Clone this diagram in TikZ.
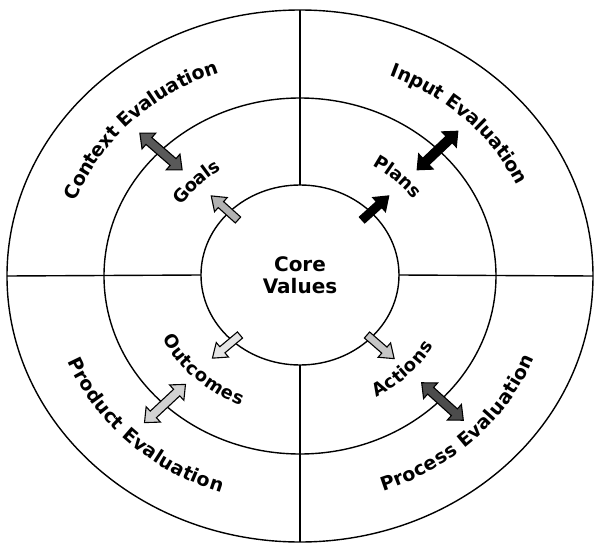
\documentclass[tikz,border=0pt]{standalone}
\usepackage{fontspec}
\setmainfont{DejaVu Sans}
\usetikzlibrary{shapes.geometric,decorations.text}
\newcommand{\lblfont}{\bfseries\fontsize{19}{19}\selectfont}
\newcommand{\midfont}{\bfseries\fontsize{18}{18}\selectfont}
\tikzset{
  ring/.style={draw, ellipse, line width=1.4pt, inner sep=0pt, outer sep=0pt},
  divider/.style={line width=1.4pt},
  blk/.style={draw=black, line width=1.1pt, line join=miter},
  sarrow/.pic={\path[pic actions] (0,-4) -- (23,-4) -- (23,-9.5) -- (36,0) -- (23,9.5) -- (23,4) -- (0,4) -- cycle;},
  darrow/.pic={\path[pic actions] (-28,0) -- (-16,10.5) -- (-16,4.5) -- (16,4.5) -- (16,10.5) -- (28,0) -- (16,-10.5) -- (16,-4.5) -- (-16,-4.5) -- (-16,-10.5) -- cycle;},
  outertext/.style={decorate, decoration={text along path, text align=center, raise=-6pt, text={|\lblfont|#1}}},
  midtext/.style={decorate, decoration={text along path, text align=center, raise=-6pt, text={|\midfont|#1}}}
}
\begin{document}
\begin{tikzpicture}[x=1pt,y=1pt]
\useasboundingbox (-300,-268) rectangle (295,276);
% rings
\node[ring, minimum width=586pt, minimum height=532pt] (outer) at (0,0) {};
\node[ring, minimum width=392pt, minimum height=356pt] (middle) at (0,0) {};
\node[ring, minimum width=198pt, minimum height=180pt, align=center, font=\bfseries\fontsize{20}{22}\selectfont] (inner) at (0,1) {Core\\Values};
% dividers
\draw[divider] (inner.west) -- (outer.west);
\draw[divider] (inner.east) -- (outer.east);
\draw[divider] (inner.north) -- (outer.north);
\draw[divider] (inner.south) -- (outer.south);
% outer labels
\path[outertext={Context Evaluation}] (178:245 and 222) arc[start angle=178, end angle=93, x radius=245, y radius=222];
\path[outertext={Input Evaluation}] (88:245 and 222) arc[start angle=88, end angle=3, x radius=245, y radius=222];
\path[outertext={Product Evaluation}] (183:245 and 222) arc[start angle=183, end angle=269, x radius=245, y radius=222];
\path[outertext={Process Evaluation}] (272:245 and 222) arc[start angle=272, end angle=358, x radius=245, y radius=222];
% middle labels
\path[midtext={Goals}] (176:148 and 134) arc[start angle=176, end angle=96, x radius=148, y radius=134];
\path[midtext={Plans}] (87:148 and 134) arc[start angle=87, end angle=7, x radius=148, y radius=134];
\path[midtext={Outcomes}] (186:148 and 134) arc[start angle=186, end angle=266, x radius=148, y radius=134];
\path[midtext={Actions}] (276:148 and 134) arc[start angle=276, end angle=356, x radius=148, y radius=134];
% single arrows from core
\pic[blk, fill=gray!60, rotate=138] at (-62,56) {sarrow};
\pic[blk, fill=black, rotate=42] at (62,56) {sarrow};
\pic[blk, fill=gray!20, rotate=220] at (-60,-59) {sarrow};
\pic[blk, fill=gray!45, rotate=-41] at (67,-59) {sarrow};
% double arrows across middle ring
\pic[blk, fill=black!65, rotate=139] at (-139,124.5) {darrow};
\pic[blk, fill=black, rotate=43.5] at (137.5,125.5) {darrow};
\pic[blk, fill=gray!35, rotate=223] at (-135,-127.5) {darrow};
\pic[blk, fill=black!70, rotate=-42] at (142.5,-125.5) {darrow};
\end{tikzpicture}
\end{document}
